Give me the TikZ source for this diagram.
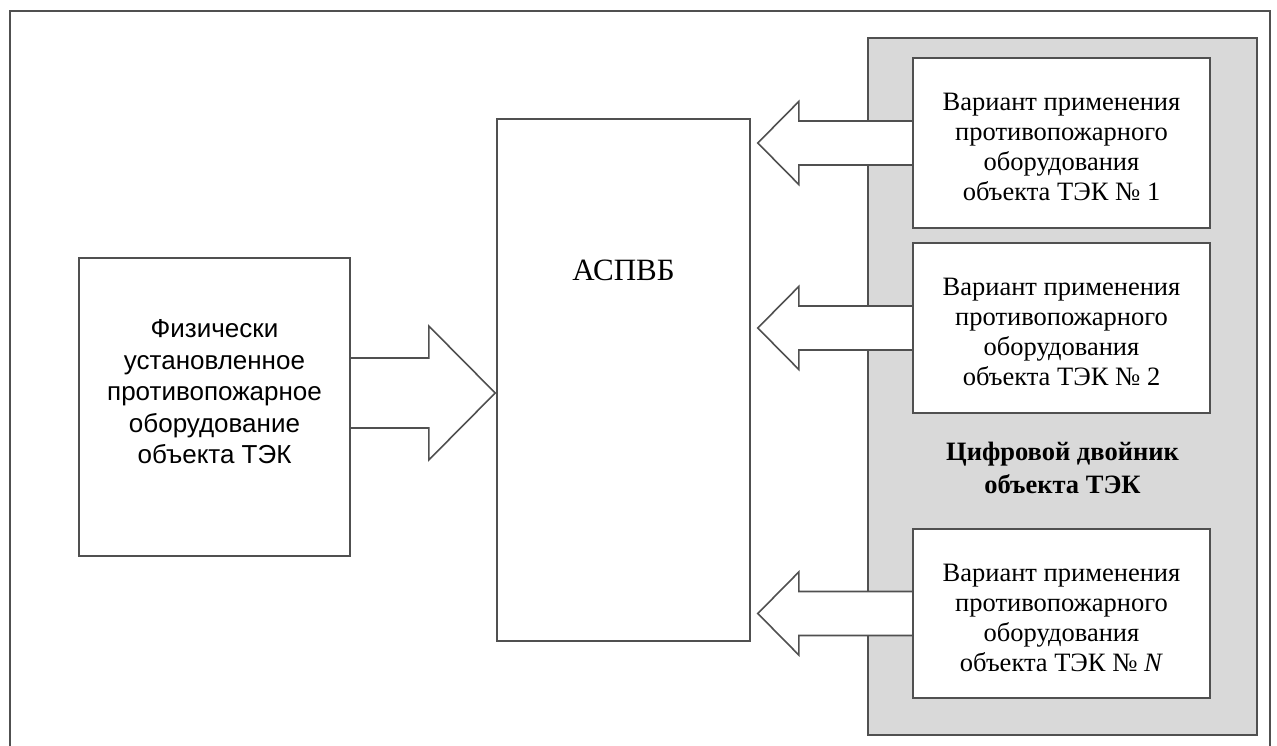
\documentclass[tikz,border=0pt]{standalone}
\usepackage{fontspec}
\setmainfont{Liberation Serif}
\newfontfamily\physfont{Liberation Sans}
\usetikzlibrary{calc,backgrounds}
\definecolor{edge}{RGB}{80,80,80}
\definecolor{twinfill}{RGB}{217,217,217}
% block arrow from a variant box to the right edge of the ASPVB box
\newcommand\twinarrow[1]{%
  \draw[arrowline]
    ($(#1.west)+(0,-22)$)
    -- ($(aspvb.east|-#1.west)+(48,-22)$)
    -- ($(aspvb.east|-#1.west)+(48,-41.5)$)
    -- ($(aspvb.east|-#1.west)+(7,0)$)
    -- ($(aspvb.east|-#1.west)+(48,41.5)$)
    -- ($(aspvb.east|-#1.west)+(48,22)$)
    -- ($(#1.west)+(0,22)$);}
\begin{document}
\begin{tikzpicture}[x=1pt,y=-1pt,
  frame/.style={draw=edge,line width=1.6pt},
  box/.style={frame,fill=white,inner sep=0pt},
  arrowline/.style={draw=edge,fill=white,line width=1.6pt,line join=miter},
  txt/.style={align=center,inner sep=0pt,font=\fontsize{26.5}{30}\selectfont}]
\useasboundingbox (0,0) rectangle (1277,746);

% boxes
\node[box,minimum width=297pt,minimum height=170pt] (v1) at (1061.5,143) {};
\node[box,minimum width=297pt,minimum height=170pt] (v2) at (1061.5,328) {};
\node[box,minimum width=297pt,minimum height=169pt] (vN) at (1061.5,613.5) {};
\node[box,minimum width=253pt,minimum height=522pt] (aspvb) at (623.5,380) {};
\node[box,minimum width=271pt,minimum height=298pt] (phys) at (214.5,407) {};

% texts
\node[txt] (t1) at ($(v1)+(0,4)$) {Вариант применения\\противопожарного\\оборудования\\объекта ТЭК № 1};
\node[txt] (t2) at ($(v2)+(0,4)$) {Вариант применения\\противопожарного\\оборудования\\объекта ТЭК № 2};
\node[txt] (tN) at ($(vN)+(0,4)$) {Вариант применения\\противопожарного\\оборудования\\объекта ТЭК № \textit{N}};
\node[txt,font=\fontsize{31}{36}\selectfont] (ta) at (623.5,270) {АСПВБ};
\node[txt,font=\physfont\fontsize{26}{31.5}\selectfont] (tp) at (214.5,392) {Физически\\установленное\\противопожарное\\оборудование\\объекта ТЭК};
\node[txt,font=\bfseries\fontsize{26.5}{33}\selectfont] (tt) at (1062.5,468) {Цифровой двойник\\объекта ТЭК};

\begin{scope}[on background layer]
  \begin{scope}
    \clip (0,0) rectangle (1277,746);
    \draw[frame] (10,11) rectangle (1270,780);
  \end{scope}
  \node[frame,fill=twinfill,inner sep=0pt,minimum width=389pt,minimum height=697pt] (twin) at (1062.5,386.5) {};
  \twinarrow{v1}
  \twinarrow{v2}
  \twinarrow{vN}
  \coordinate (pa) at ($(phys.east)+(0,-14)$);
  \coordinate (pt) at (aspvb.west|-pa);
  \draw[arrowline] ($(pa)+(0,-35)$) -- ($(pa)+(78,-35)$) -- ($(pa)+(78,-67)$)
    -- ($(pt)+(-1,0)$) -- ($(pa)+(78,67)$) -- ($(pa)+(78,35)$) -- ($(pa)+(0,35)$);
\end{scope}
\end{tikzpicture}
\end{document}
